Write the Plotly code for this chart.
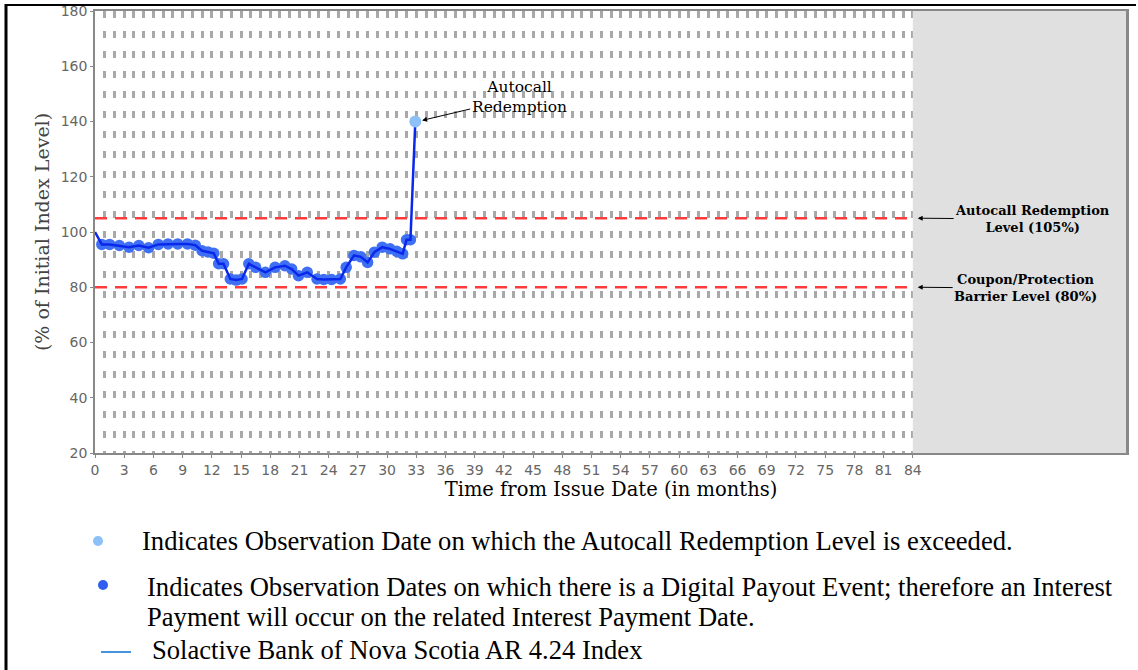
import plotly.graph_objects as go

# ---- data ----
months = [0, 0.7, 1.5, 2.5, 3.5, 4.5, 5.5, 6.5, 7.5, 8.5, 9.5, 10.3, 11.0, 11.6,
          12.2, 12.7, 13.2, 13.9, 14.5, 15.1, 15.8, 16.5, 17.5, 18.5, 19.5, 20.2,
          20.9, 21.8, 22.8, 23.5, 24.3, 25.2, 25.8, 26.6, 27.3, 28.0, 28.7, 29.5,
          30.3, 31.0, 31.6, 32.0, 32.4, 32.9]
index_level = [100, 95.5, 95.5, 95.1, 94.5, 95.1, 94.3, 95.5, 95.7, 95.7, 95.7, 95.2,
               93.2, 92.8, 92.3, 88.5, 88.5, 83.0, 82.6, 83.0, 88.5, 87.2, 85.4, 87.2,
               87.8, 86.6, 84.2, 85.4, 83.0, 82.8, 82.8, 83.0, 87.2, 91.5, 91.0, 89.0,
               92.7, 94.5, 93.9, 93.0, 92.1, 97.2, 97.2, 140]
autocall_month = [32.9]
autocall_level = [140]
autocall_barrier = 105
coupon_barrier = 80
term_months = 84
x_max = 106
x_ticks = list(range(0, 85, 3))
x_grid = list(range(1, 85))
y_ticks = list(range(20, 181, 20))

L, R, T, B = 95, 11, 11, 217
W, H = 1138, 670
PW, PH = W - L - R, H - T - B

def px(xp):
    return (xp - L) / PW

def py(yp):
    return (T + PH - yp) / PH

fig = go.Figure()

# digital payout observation markers
fig.add_trace(go.Scatter(x=months[1:-1], y=index_level[1:-1], mode="markers",
                         marker=dict(size=11.5, color="#3f6ff3", line=dict(width=0)),
                         hoverinfo="skip", showlegend=False))
# barrier lines
fig.add_trace(go.Scatter(x=[0, term_months], y=[autocall_barrier] * 2, mode="lines",
                         line=dict(color="#ff3b3b", width=2.5, dash="12px,8px"),
                         showlegend=False))
fig.add_trace(go.Scatter(x=[0, term_months], y=[coupon_barrier] * 2, mode="lines",
                         line=dict(color="#ff3b3b", width=2.5, dash="12px,8px"),
                         showlegend=False))
# index line
fig.add_trace(go.Scatter(x=months, y=index_level, mode="lines",
                         line=dict(color="#0a28ec", width=2.5),
                         showlegend=False))
# autocall marker
fig.add_trace(go.Scatter(x=autocall_month, y=autocall_level, mode="markers",
                         marker=dict(size=12, color="#8cc0f6", line=dict(width=0)),
                         showlegend=False))

# grey area after term
fig.add_shape(type="rect", xref="x", yref="y", x0=term_months, x1=x_max, y0=20, y1=180,
              fillcolor="#e0e0e0", line=dict(width=0), layer="above")
fig.add_shape(type="line", xref="x", yref="y", x0=x_max, x1=x_max, y0=20, y1=180,
              line=dict(color="#888", width=2), layer="above")

# black frame of the picture
fig.add_shape(type="line", xref="paper", yref="paper", x0=px(7), x1=px(1136),
              y0=py(5), y1=py(5), line=dict(color="black", width=2))
fig.add_shape(type="line", xref="paper", yref="paper", x0=px(6), x1=px(6),
              y0=py(4), y1=py(672), line=dict(color="black", width=3))

serif_b = dict(family="DejaVu Serif", size=13, color="black", weight="bold")

fig.add_annotation(x=33.6, y=140.4, xref="x", yref="y", ax=97, ay=-23,
                   text="Autocall<br>Redemption", showarrow=True, arrowhead=2,
                   arrowsize=1, arrowwidth=1, arrowcolor="black",
                   font=dict(family="DejaVu Serif", size=15.5, color="black"))
fig.add_annotation(x=84.5, y=autocall_barrier, xref="x", yref="y", ax=115, ay=1,
                   text="Autocall Redemption<br>Level (105%)", showarrow=True,
                   arrowhead=2, arrowsize=1, arrowwidth=1, arrowcolor="black",
                   font=serif_b)
fig.add_annotation(x=84.5, y=coupon_barrier, xref="x", yref="y", ax=108, ay=1,
                   text="Coupon/Protection<br>Barrier Level (80%)", showarrow=True,
                   arrowhead=2, arrowsize=1, arrowwidth=1, arrowcolor="black",
                   font=serif_b)

# custom legend below
leg_font = dict(family="Liberation Serif", size=26.6, color="black")
fig.add_shape(type="circle", xref="paper", yref="paper", xsizemode="pixel",
              ysizemode="pixel", xanchor=px(98), yanchor=py(541), x0=-5, x1=5,
              y0=-5, y1=5, fillcolor="#8cc0f6", line=dict(width=0))
fig.add_shape(type="circle", xref="paper", yref="paper", xsizemode="pixel",
              ysizemode="pixel", xanchor=px(103), yanchor=py(585), x0=-5, x1=5,
              y0=-5, y1=5, fillcolor="#2f5ef0", line=dict(width=0))
fig.add_shape(type="line", xref="paper", yref="paper", x0=px(101), x1=px(131),
              y0=py(652), y1=py(652), line=dict(color="#0a6fd0", width=1.5))
for txt, xx, yy in [
    ("Indicates Observation Date on which the Autocall Redemption Level is exceeded.", 140, 541),
    ("Indicates Observation Dates on which there is a Digital Payout Event; therefore an Interest", 145, 587),
    ("Payment will occur on the related Interest Payment Date.", 145, 617),
    ("Solactive Bank of Nova Scotia AR 4.24 Index", 150, 650),
]:
    fig.add_annotation(x=px(xx), y=py(yy), xref="paper", yref="paper", text=txt,
                       showarrow=False, xanchor="left", yanchor="middle", font=leg_font)

fig.update_xaxes(range=[0, x_max], tickmode="array", tickvals=x_ticks,
                 ticktext=[str(v) for v in x_ticks], ticks="outside", ticklen=3,
                 tickcolor="#888", showline=True, mirror=True, linecolor="#888",
                 linewidth=1.5, showgrid=True, gridcolor="#a8a8a8", gridwidth=2.5,
                 griddash="7px,13px",
                 minor=dict(tickmode="array", tickvals=x_grid, showgrid=True,
                            gridcolor="#a8a8a8", gridwidth=2.5, griddash="7px,13px"),
                 zeroline=False, automargin=False,
                 tickfont=dict(family="DejaVu Sans", size=14, color="#666"),
                 title=dict(text="Time from Issue Date (in months)", standoff=6,
                            font=dict(family="DejaVu Serif", size=19.5, color="black")))
fig.update_yaxes(range=[20, 180], tickmode="array", tickvals=y_ticks, ticks="outside",
                 ticklen=3, tickcolor="#888", showline=True, mirror=True,
                 linecolor="#888", linewidth=1.5, showgrid=False, zeroline=False,
                 automargin=False,
                 tickfont=dict(family="DejaVu Sans", size=14, color="#666"),
                 title=dict(text="(% of Initial Index Level)", standoff=6,
                            font=dict(family="DejaVu Serif", size=19, color="#444")))

fig.update_layout(width=W, height=H, margin=dict(l=L, r=R, t=T, b=B),
                  paper_bgcolor="white", plot_bgcolor="white", showlegend=False)

fig.write_html("out.html", config={"displayModeBar": False},
               post_script="document.body.style.margin='0';document.body.style.overflow='hidden';")
